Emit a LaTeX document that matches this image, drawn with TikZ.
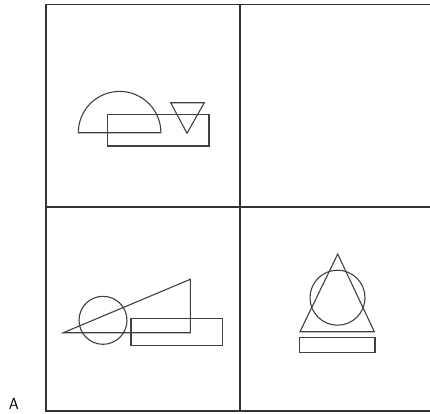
\documentclass[tikz,border=0pt]{standalone}
\usepackage{tikz}
\begin{document}
\begin{tikzpicture}[x=1pt,y=-1pt,cell/.style={draw=black!80,line width=1.3pt},fig/.style={draw=black!75,line width=1.1pt},every node/.style={font=\sffamily\fontsize{16}{18}\selectfont}]
\useasboundingbox (0,0) rectangle (430,413);
% grid
\draw[cell] (440,4.7) -- (46,4.7) -- (46,411) -- (440,411);
\draw[cell] (240,4.7) -- (240,411);
\draw[cell] (46,207) -- (440,207);
\node[anchor=base,inner sep=0pt] (lab) at (14,409.5) {A};
% top left
\draw[fig] (78.3,132.7) arc[start angle=180,end angle=360,radius=41.3] -- cycle;
\draw[fig] (107.3,114.3) rectangle (209,146);
\draw[fig] (170.7,102.7) -- (204.3,102.7) -- (187,133.3) -- cycle;
% bottom left
\draw[fig] (63.3,332.7) -- (190.3,332.7) -- (190.3,279.3) -- cycle;
\draw[fig] (103,320.3) circle[radius=24];
\draw[fig] (131,318.3) rectangle (222.3,345.7);
% bottom right
\draw[fig] (337.7,254) -- (374.3,331.7) -- (300,331.7) -- cycle;
\draw[fig] (337.5,297.7) circle[radius=27.5];
\draw[fig] (299.3,337.7) rectangle (375,352.7);
\end{tikzpicture}
\end{document}
